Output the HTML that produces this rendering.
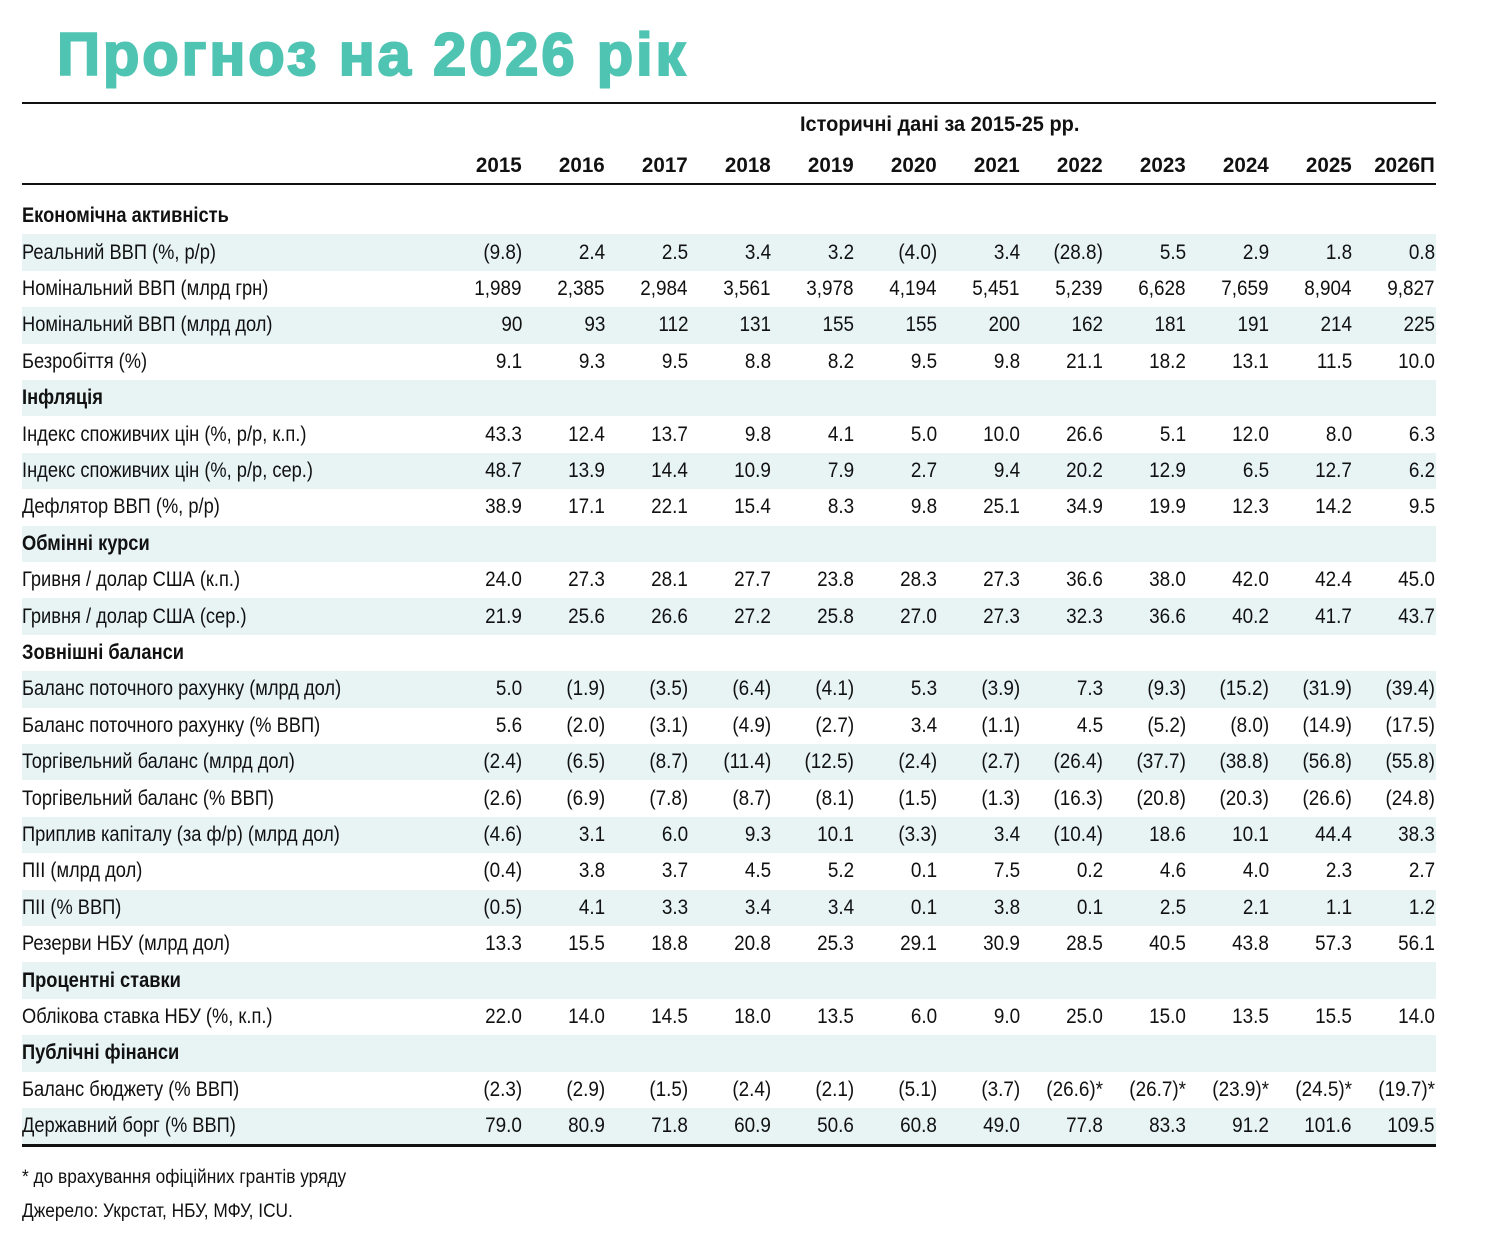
<!DOCTYPE html>
<html><head><meta charset="utf-8"><style>
*{margin:0;padding:0;box-sizing:border-box}
body{width:1499px;height:1240px;background:#fff;position:relative;overflow:hidden;font-family:"Liberation Sans Narrow","Liberation Sans",sans-serif;color:#111;font-size:21px}
.title{position:absolute;left:57px;top:20px;font-family:"Liberation Sans",sans-serif;font-weight:bold;font-size:60px;color:#4fc4b3;letter-spacing:2.7px;-webkit-text-stroke:2px #4fc4b3;white-space:nowrap}
.line{position:absolute;left:22px;width:1414px;background:#111}
.r{position:absolute;left:22px;width:1414px;height:36.4px;display:flex;align-items:center}
.r.s{background:#e8f4f4}
.r .l{width:417px;white-space:nowrap}
.r .l span{display:inline-block;transform:scaleX(0.87);transform-origin:left center}
.r .v{width:83px;text-align:right;white-space:nowrap}
.r .v span{display:inline-block;transform:scaleX(0.9);transform-origin:right center}
.r .v.b span{transform:scaleX(0.98)}
.b{font-weight:bold}
.hdr{position:absolute;white-space:nowrap;font-weight:bold;transform:scaleX(0.95);transform-origin:left center}
.f{position:absolute;left:22px;font-size:19px;white-space:nowrap;transform:scaleX(0.91);transform-origin:left center}
</style></head><body>
<div class="title">Прогноз на 2026 рік</div>
<div class="line" style="top:102px;height:2px"></div>
<div class="hdr" style="left:800px;top:113px">Історичні дані за 2015-25 рр.</div>
<div class="r" style="top:148px"><span class="l"></span><span class="v b"><span>2015</span></span><span class="v b"><span>2016</span></span><span class="v b"><span>2017</span></span><span class="v b"><span>2018</span></span><span class="v b"><span>2019</span></span><span class="v b"><span>2020</span></span><span class="v b"><span>2021</span></span><span class="v b"><span>2022</span></span><span class="v b"><span>2023</span></span><span class="v b"><span>2024</span></span><span class="v b"><span>2025</span></span><span class="v b"><span>2026П</span></span></div>
<div class="line" style="top:183px;height:2px"></div>

<div class="r" style="top:198px"><span class="l b"><span>Економічна активність</span></span></div>
<div class="r s" style="top:234.4px"><span class="l"><span>Реальний ВВП (%, р/р)</span></span><span class="v"><span>(9.8)</span></span><span class="v"><span>2.4</span></span><span class="v"><span>2.5</span></span><span class="v"><span>3.4</span></span><span class="v"><span>3.2</span></span><span class="v"><span>(4.0)</span></span><span class="v"><span>3.4</span></span><span class="v"><span>(28.8)</span></span><span class="v"><span>5.5</span></span><span class="v"><span>2.9</span></span><span class="v"><span>1.8</span></span><span class="v"><span>0.8</span></span></div>
<div class="r" style="top:270.8px"><span class="l"><span>Номінальний ВВП (млрд грн)</span></span><span class="v"><span>1,989</span></span><span class="v"><span>2,385</span></span><span class="v"><span>2,984</span></span><span class="v"><span>3,561</span></span><span class="v"><span>3,978</span></span><span class="v"><span>4,194</span></span><span class="v"><span>5,451</span></span><span class="v"><span>5,239</span></span><span class="v"><span>6,628</span></span><span class="v"><span>7,659</span></span><span class="v"><span>8,904</span></span><span class="v"><span>9,827</span></span></div>
<div class="r s" style="top:307.2px"><span class="l"><span>Номінальний ВВП (млрд дол)</span></span><span class="v"><span>90</span></span><span class="v"><span>93</span></span><span class="v"><span>112</span></span><span class="v"><span>131</span></span><span class="v"><span>155</span></span><span class="v"><span>155</span></span><span class="v"><span>200</span></span><span class="v"><span>162</span></span><span class="v"><span>181</span></span><span class="v"><span>191</span></span><span class="v"><span>214</span></span><span class="v"><span>225</span></span></div>
<div class="r" style="top:343.6px"><span class="l"><span>Безробіття (%)</span></span><span class="v"><span>9.1</span></span><span class="v"><span>9.3</span></span><span class="v"><span>9.5</span></span><span class="v"><span>8.8</span></span><span class="v"><span>8.2</span></span><span class="v"><span>9.5</span></span><span class="v"><span>9.8</span></span><span class="v"><span>21.1</span></span><span class="v"><span>18.2</span></span><span class="v"><span>13.1</span></span><span class="v"><span>11.5</span></span><span class="v"><span>10.0</span></span></div>
<div class="r s" style="top:380px"><span class="l b"><span>Інфляція</span></span></div>
<div class="r" style="top:416.4px"><span class="l"><span>Індекс споживчих цін (%, р/р, к.п.)</span></span><span class="v"><span>43.3</span></span><span class="v"><span>12.4</span></span><span class="v"><span>13.7</span></span><span class="v"><span>9.8</span></span><span class="v"><span>4.1</span></span><span class="v"><span>5.0</span></span><span class="v"><span>10.0</span></span><span class="v"><span>26.6</span></span><span class="v"><span>5.1</span></span><span class="v"><span>12.0</span></span><span class="v"><span>8.0</span></span><span class="v"><span>6.3</span></span></div>
<div class="r s" style="top:452.8px"><span class="l"><span>Індекс споживчих цін (%, р/р, сер.)</span></span><span class="v"><span>48.7</span></span><span class="v"><span>13.9</span></span><span class="v"><span>14.4</span></span><span class="v"><span>10.9</span></span><span class="v"><span>7.9</span></span><span class="v"><span>2.7</span></span><span class="v"><span>9.4</span></span><span class="v"><span>20.2</span></span><span class="v"><span>12.9</span></span><span class="v"><span>6.5</span></span><span class="v"><span>12.7</span></span><span class="v"><span>6.2</span></span></div>
<div class="r" style="top:489.2px"><span class="l"><span>Дефлятор ВВП (%, р/р)</span></span><span class="v"><span>38.9</span></span><span class="v"><span>17.1</span></span><span class="v"><span>22.1</span></span><span class="v"><span>15.4</span></span><span class="v"><span>8.3</span></span><span class="v"><span>9.8</span></span><span class="v"><span>25.1</span></span><span class="v"><span>34.9</span></span><span class="v"><span>19.9</span></span><span class="v"><span>12.3</span></span><span class="v"><span>14.2</span></span><span class="v"><span>9.5</span></span></div>
<div class="r s" style="top:525.6px"><span class="l b"><span>Обмінні курси</span></span></div>
<div class="r" style="top:562px"><span class="l"><span>Гривня / долар США (к.п.)</span></span><span class="v"><span>24.0</span></span><span class="v"><span>27.3</span></span><span class="v"><span>28.1</span></span><span class="v"><span>27.7</span></span><span class="v"><span>23.8</span></span><span class="v"><span>28.3</span></span><span class="v"><span>27.3</span></span><span class="v"><span>36.6</span></span><span class="v"><span>38.0</span></span><span class="v"><span>42.0</span></span><span class="v"><span>42.4</span></span><span class="v"><span>45.0</span></span></div>
<div class="r s" style="top:598.4px"><span class="l"><span>Гривня / долар США (сер.)</span></span><span class="v"><span>21.9</span></span><span class="v"><span>25.6</span></span><span class="v"><span>26.6</span></span><span class="v"><span>27.2</span></span><span class="v"><span>25.8</span></span><span class="v"><span>27.0</span></span><span class="v"><span>27.3</span></span><span class="v"><span>32.3</span></span><span class="v"><span>36.6</span></span><span class="v"><span>40.2</span></span><span class="v"><span>41.7</span></span><span class="v"><span>43.7</span></span></div>
<div class="r" style="top:634.8px"><span class="l b"><span>Зовнішні баланси</span></span></div>
<div class="r s" style="top:671.2px"><span class="l"><span>Баланс поточного рахунку (млрд дол)</span></span><span class="v"><span>5.0</span></span><span class="v"><span>(1.9)</span></span><span class="v"><span>(3.5)</span></span><span class="v"><span>(6.4)</span></span><span class="v"><span>(4.1)</span></span><span class="v"><span>5.3</span></span><span class="v"><span>(3.9)</span></span><span class="v"><span>7.3</span></span><span class="v"><span>(9.3)</span></span><span class="v"><span>(15.2)</span></span><span class="v"><span>(31.9)</span></span><span class="v"><span>(39.4)</span></span></div>
<div class="r" style="top:707.6px"><span class="l"><span>Баланс поточного рахунку (% ВВП)</span></span><span class="v"><span>5.6</span></span><span class="v"><span>(2.0)</span></span><span class="v"><span>(3.1)</span></span><span class="v"><span>(4.9)</span></span><span class="v"><span>(2.7)</span></span><span class="v"><span>3.4</span></span><span class="v"><span>(1.1)</span></span><span class="v"><span>4.5</span></span><span class="v"><span>(5.2)</span></span><span class="v"><span>(8.0)</span></span><span class="v"><span>(14.9)</span></span><span class="v"><span>(17.5)</span></span></div>
<div class="r s" style="top:744px"><span class="l"><span>Торгівельний баланс (млрд дол)</span></span><span class="v"><span>(2.4)</span></span><span class="v"><span>(6.5)</span></span><span class="v"><span>(8.7)</span></span><span class="v"><span>(11.4)</span></span><span class="v"><span>(12.5)</span></span><span class="v"><span>(2.4)</span></span><span class="v"><span>(2.7)</span></span><span class="v"><span>(26.4)</span></span><span class="v"><span>(37.7)</span></span><span class="v"><span>(38.8)</span></span><span class="v"><span>(56.8)</span></span><span class="v"><span>(55.8)</span></span></div>
<div class="r" style="top:780.4px"><span class="l"><span>Торгівельний баланс (% ВВП)</span></span><span class="v"><span>(2.6)</span></span><span class="v"><span>(6.9)</span></span><span class="v"><span>(7.8)</span></span><span class="v"><span>(8.7)</span></span><span class="v"><span>(8.1)</span></span><span class="v"><span>(1.5)</span></span><span class="v"><span>(1.3)</span></span><span class="v"><span>(16.3)</span></span><span class="v"><span>(20.8)</span></span><span class="v"><span>(20.3)</span></span><span class="v"><span>(26.6)</span></span><span class="v"><span>(24.8)</span></span></div>
<div class="r s" style="top:816.8px"><span class="l"><span>Приплив капіталу (за ф/р) (млрд дол)</span></span><span class="v"><span>(4.6)</span></span><span class="v"><span>3.1</span></span><span class="v"><span>6.0</span></span><span class="v"><span>9.3</span></span><span class="v"><span>10.1</span></span><span class="v"><span>(3.3)</span></span><span class="v"><span>3.4</span></span><span class="v"><span>(10.4)</span></span><span class="v"><span>18.6</span></span><span class="v"><span>10.1</span></span><span class="v"><span>44.4</span></span><span class="v"><span>38.3</span></span></div>
<div class="r" style="top:853.2px"><span class="l"><span>ПІІ (млрд дол)</span></span><span class="v"><span>(0.4)</span></span><span class="v"><span>3.8</span></span><span class="v"><span>3.7</span></span><span class="v"><span>4.5</span></span><span class="v"><span>5.2</span></span><span class="v"><span>0.1</span></span><span class="v"><span>7.5</span></span><span class="v"><span>0.2</span></span><span class="v"><span>4.6</span></span><span class="v"><span>4.0</span></span><span class="v"><span>2.3</span></span><span class="v"><span>2.7</span></span></div>
<div class="r s" style="top:889.6px"><span class="l"><span>ПІІ (% ВВП)</span></span><span class="v"><span>(0.5)</span></span><span class="v"><span>4.1</span></span><span class="v"><span>3.3</span></span><span class="v"><span>3.4</span></span><span class="v"><span>3.4</span></span><span class="v"><span>0.1</span></span><span class="v"><span>3.8</span></span><span class="v"><span>0.1</span></span><span class="v"><span>2.5</span></span><span class="v"><span>2.1</span></span><span class="v"><span>1.1</span></span><span class="v"><span>1.2</span></span></div>
<div class="r" style="top:926px"><span class="l"><span>Резерви НБУ (млрд дол)</span></span><span class="v"><span>13.3</span></span><span class="v"><span>15.5</span></span><span class="v"><span>18.8</span></span><span class="v"><span>20.8</span></span><span class="v"><span>25.3</span></span><span class="v"><span>29.1</span></span><span class="v"><span>30.9</span></span><span class="v"><span>28.5</span></span><span class="v"><span>40.5</span></span><span class="v"><span>43.8</span></span><span class="v"><span>57.3</span></span><span class="v"><span>56.1</span></span></div>
<div class="r s" style="top:962.4px"><span class="l b"><span>Процентні ставки</span></span></div>
<div class="r" style="top:998.8px"><span class="l"><span>Облікова ставка НБУ (%, к.п.)</span></span><span class="v"><span>22.0</span></span><span class="v"><span>14.0</span></span><span class="v"><span>14.5</span></span><span class="v"><span>18.0</span></span><span class="v"><span>13.5</span></span><span class="v"><span>6.0</span></span><span class="v"><span>9.0</span></span><span class="v"><span>25.0</span></span><span class="v"><span>15.0</span></span><span class="v"><span>13.5</span></span><span class="v"><span>15.5</span></span><span class="v"><span>14.0</span></span></div>
<div class="r s" style="top:1035.2px"><span class="l b"><span>Публічні фінанси</span></span></div>
<div class="r" style="top:1071.6px"><span class="l"><span>Баланс бюджету (% ВВП)</span></span><span class="v"><span>(2.3)</span></span><span class="v"><span>(2.9)</span></span><span class="v"><span>(1.5)</span></span><span class="v"><span>(2.4)</span></span><span class="v"><span>(2.1)</span></span><span class="v"><span>(5.1)</span></span><span class="v"><span>(3.7)</span></span><span class="v"><span>(26.6)*</span></span><span class="v"><span>(26.7)*</span></span><span class="v"><span>(23.9)*</span></span><span class="v"><span>(24.5)*</span></span><span class="v"><span>(19.7)*</span></span></div>
<div class="r s" style="top:1108px"><span class="l"><span>Державний борг (% ВВП)</span></span><span class="v"><span>79.0</span></span><span class="v"><span>80.9</span></span><span class="v"><span>71.8</span></span><span class="v"><span>60.9</span></span><span class="v"><span>50.6</span></span><span class="v"><span>60.8</span></span><span class="v"><span>49.0</span></span><span class="v"><span>77.8</span></span><span class="v"><span>83.3</span></span><span class="v"><span>91.2</span></span><span class="v"><span>101.6</span></span><span class="v"><span>109.5</span></span></div>
<div class="line" style="top:1144px;height:3px"></div>
<div class="f" style="top:1167px">* до врахування офіційних грантів уряду</div>
<div class="f" style="top:1201px">Джерело: Укрстат, НБУ, МФУ, ICU.</div>
</body></html>
